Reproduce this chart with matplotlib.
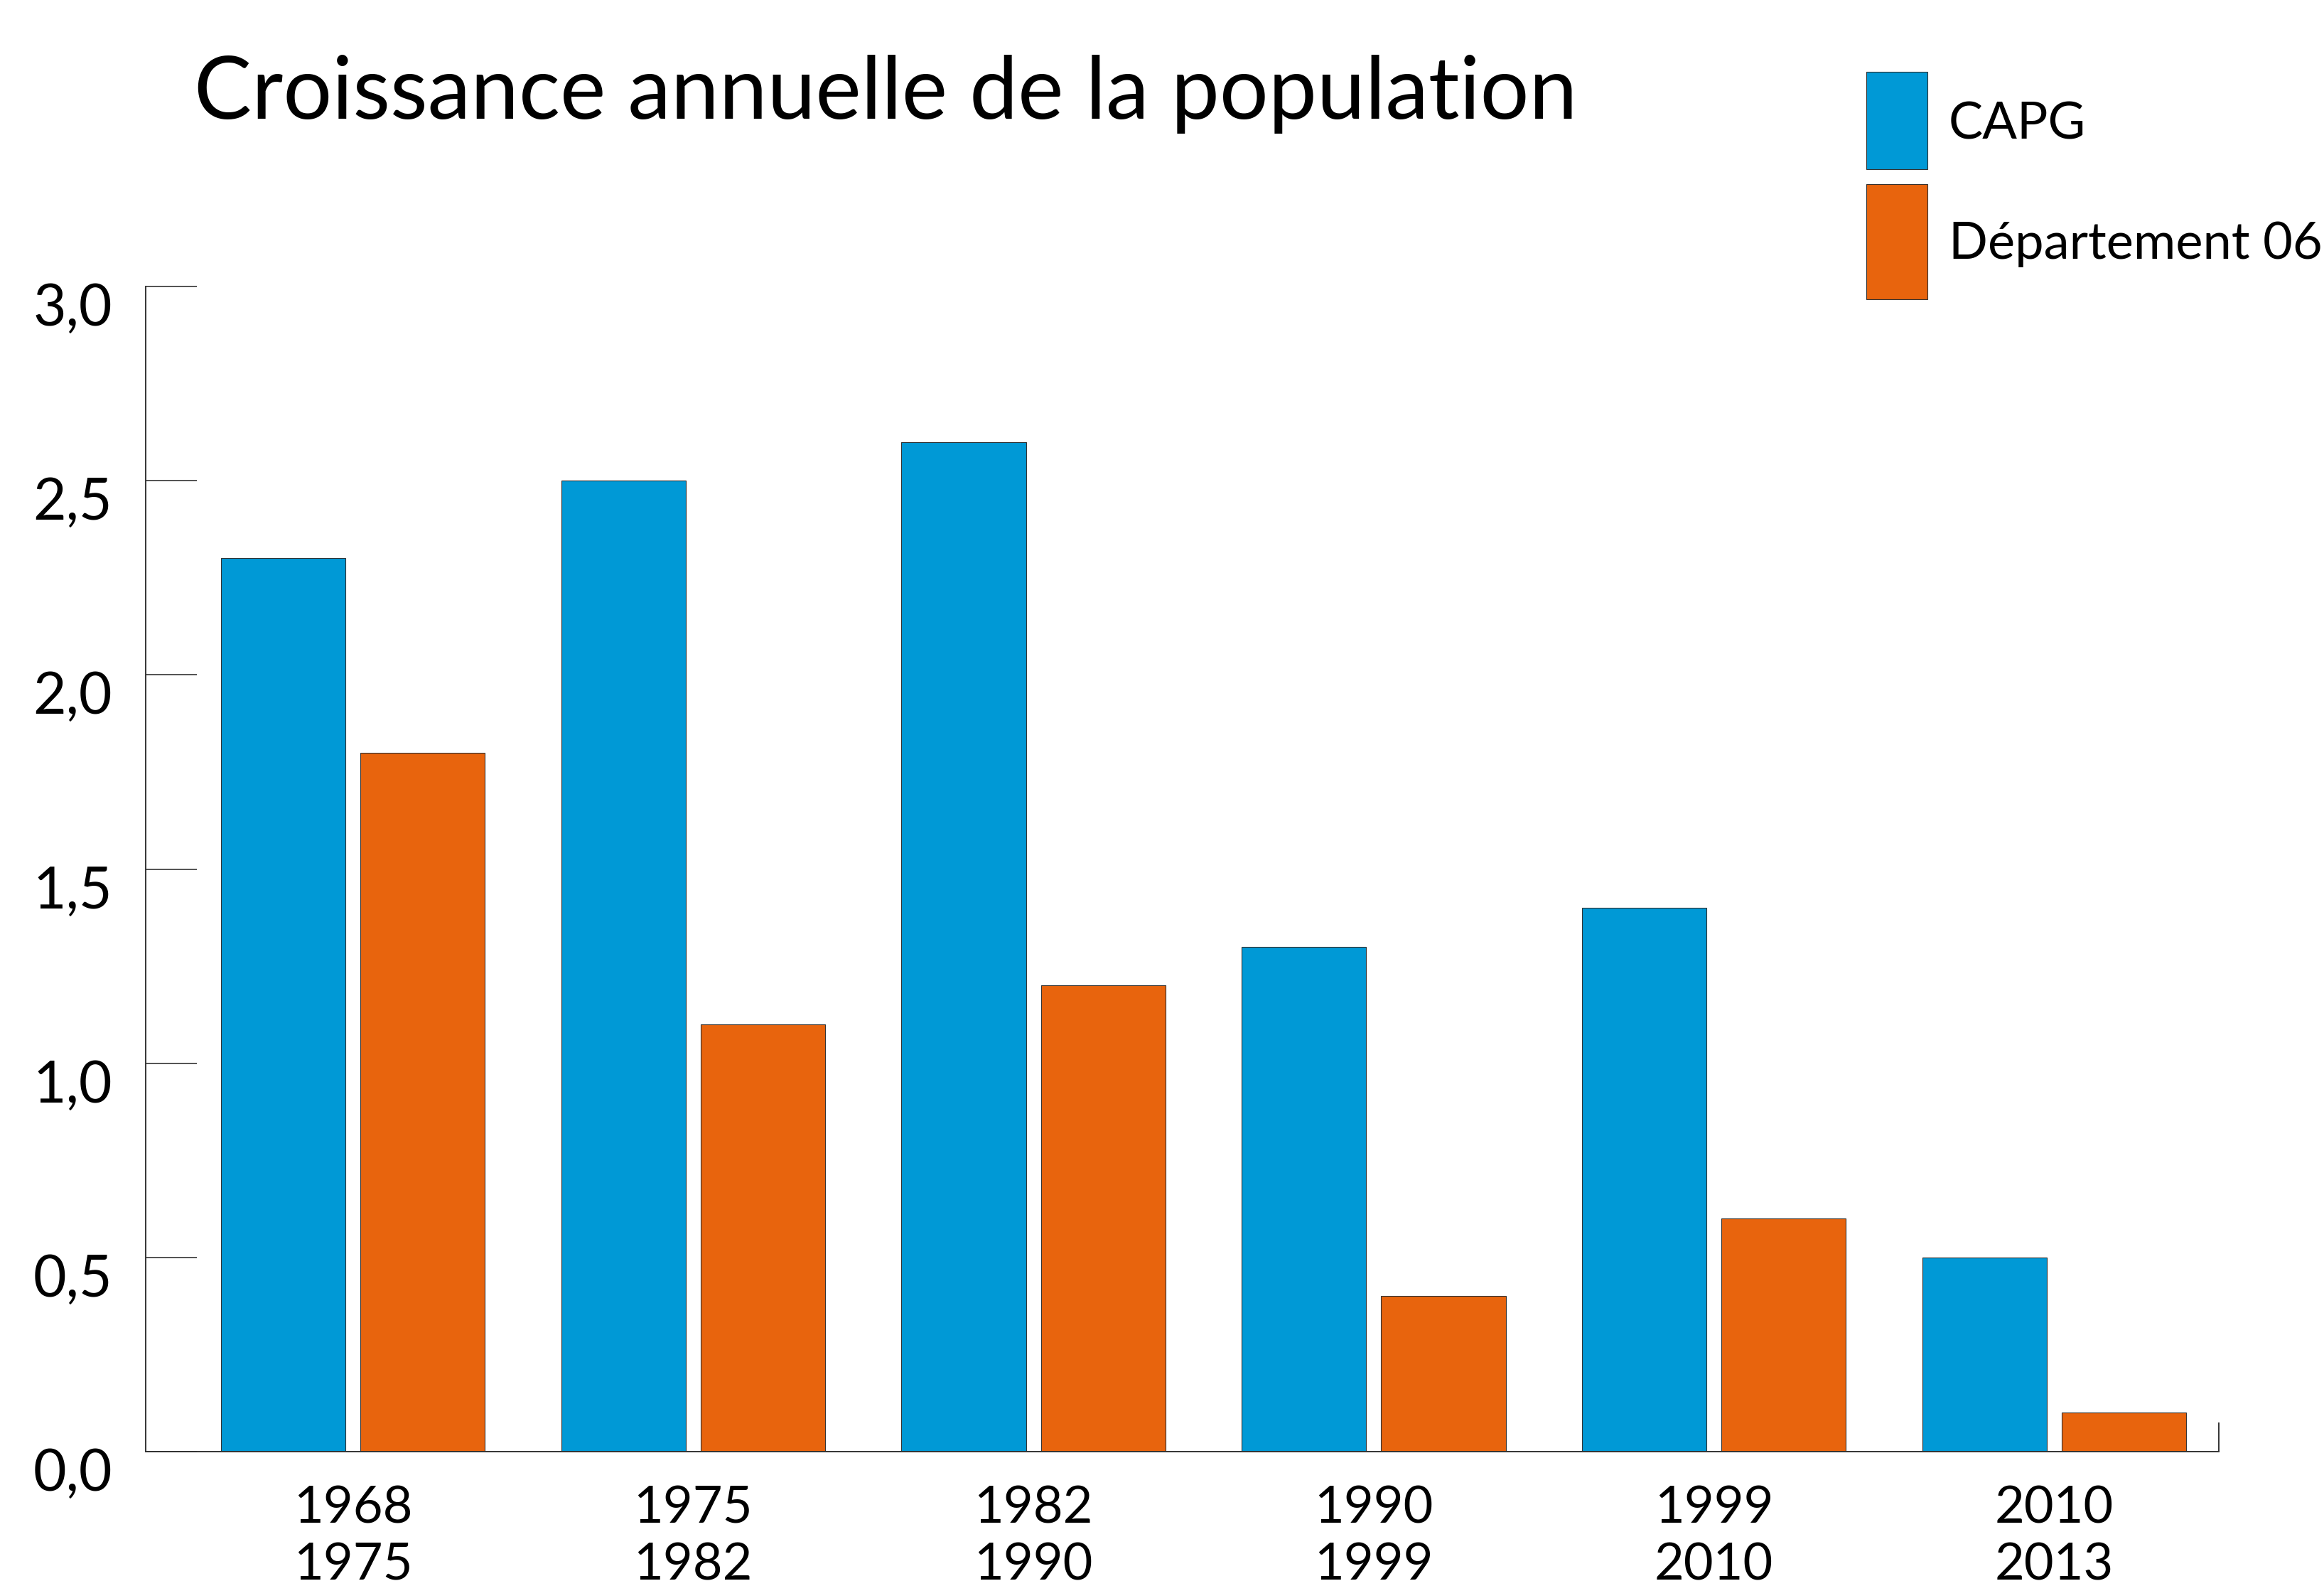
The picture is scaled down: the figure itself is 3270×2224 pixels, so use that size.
import matplotlib
matplotlib.use("Agg")
import matplotlib.pyplot as plt
import numpy as np
from matplotlib.patches import Rectangle
from matplotlib.transforms import ScaledTranslation

plt.rcParams['font.family'] = ['Lato', 'DejaVu Sans']

periods = ["1968\n1975", "1975\n1982", "1982\n1990", "1990\n1999", "1999\n2010", "2010\n2013"]
capg = [2.3, 2.5, 2.6, 1.3, 1.4, 0.5]
dept06 = [1.8, 1.1, 1.2, 0.4, 0.6, 0.1]
series_names = ["CAPG", "Département 06"]
yticks = [0.0, 0.5, 1.0, 1.5, 2.0, 2.5, 3.0]
ytick_labels = ["0,0", "0,5", "1,0", "1,5", "2,0", "2,5", "3,0"]
title = "Croissance annuelle de la population"

BLUE = "#0099D6"
ORANGE = "#E8640D"
EDGE = "#333333"

W, H = 3270, 2224
DPI = 100
fig = plt.figure(figsize=(W / DPI, H / DPI), dpi=DPI)
ax = fig.add_axes([205 / W, 1 - 2042 / H, (3122 - 205) / W, (2042 - 403) / H])

x = np.arange(len(periods))
bw = 0.366
off = 0.205
ax.bar(x - off, capg, width=bw, color=BLUE, edgecolor=EDGE, linewidth=0.8, zorder=2)
ax.bar(x + off, dept06, width=bw, color=ORANGE, edgecolor=EDGE, linewidth=0.8, zorder=2)

ax.set_xlim(-0.609, 5.484)
ax.set_ylim(0, 3.0)

for s in ["top", "right"]:
    ax.spines[s].set_visible(False)
for s in ["left", "bottom"]:
    ax.spines[s].set_color(EDGE)
    ax.spines[s].set_linewidth(1.4)

ax.set_yticks(yticks)
ax.set_yticklabels(ytick_labels, fontsize=58)
ax.tick_params(axis='y', direction='in', length=52, width=1.2, color=EDGE, pad=34)
for lab in ax.get_yticklabels():
    lab.set_transform(lab.get_transform() + ScaledTranslation(0, -0.25, fig.dpi_scale_trans))

ax.set_xticks(x)
ax.set_xticklabels(periods, fontsize=52, linespacing=1.28)
ax.tick_params(axis='x', length=0, pad=34)

# small end mark at right of baseline
ax.plot([1, 1], [0, 0.0244], transform=ax.transAxes, color=EDGE, lw=1.4, clip_on=False)

fig.text(273 / W, 1 - 167 / H, title, fontsize=87.5, va='baseline', ha='left')

# legend
fig.patches.append(Rectangle((2626 / W, 1 - 238 / H), 86 / W, 137 / H, transform=fig.transFigure,
                             facecolor=BLUE, edgecolor=EDGE, linewidth=0.8))
fig.patches.append(Rectangle((2626 / W, 1 - 421 / H), 86 / W, 162 / H, transform=fig.transFigure,
                             facecolor=ORANGE, edgecolor=EDGE, linewidth=0.8))
fig.text(2742 / W, 1 - 195 / H, series_names[0], fontsize=52, va='baseline', ha='left')
fig.text(2742 / W, 1 - 364 / H, series_names[1], fontsize=52, va='baseline', ha='left')

fig.savefig("out.png", dpi=DPI)
